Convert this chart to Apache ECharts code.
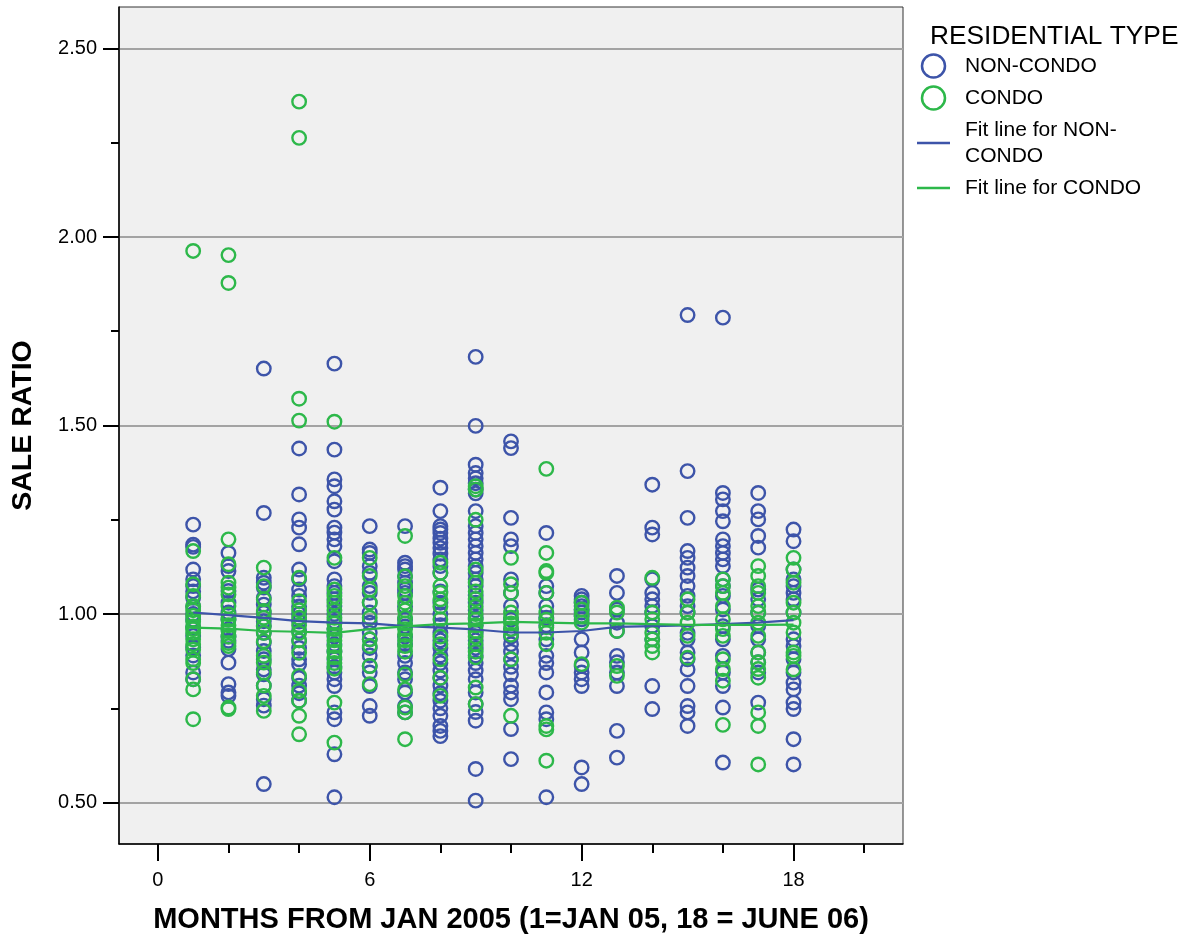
<!DOCTYPE html>
<html>
<head>
<meta charset="utf-8">
<script src="https://cdn.jsdelivr.net/npm/echarts@6/dist/echarts.min.js"></script>
<style>
html,body{margin:0;padding:0;background:#fff;}
#chart{width:1196px;height:939px;}
</style>
</head>
<body>
<div id="chart"></div>
<script>
// ---------- DATA ----------
const months = [1,2,3,4,5,6,7,8,9,10,11,12,13,14,15,16,17,18];

const nonCondoByMonth = [
  [1.237,1.184,1.178,1.118,1.092,1.074,1.060,1.043,1.020,1.000,0.985,0.965,0.942,0.911,0.890,0.845,0.827],
  [1.162,1.127,1.114,1.061,1.030,1.004,0.985,0.960,0.940,0.929,0.907,0.871,0.814,0.792,0.783],
  [1.651,1.268,1.096,1.083,1.070,1.043,1.025,1.003,0.981,0.968,0.950,0.924,0.902,0.880,0.853,0.840,0.810,0.774,0.757,0.549],
  [1.439,1.317,1.251,1.229,1.185,1.118,1.092,1.065,1.048,1.020,1.000,0.980,0.955,0.930,0.910,0.880,0.867,0.830,0.810,0.790,0.770],
  [1.664,1.436,1.357,1.339,1.299,1.277,1.229,1.216,1.198,1.180,1.140,1.092,1.074,1.056,1.039,1.021,1.000,0.980,0.960,0.940,0.920,0.900,0.880,0.860,0.845,0.827,0.809,0.739,0.721,0.628,0.514],
  [1.233,1.171,1.162,1.127,1.109,1.074,1.056,1.030,1.004,0.977,0.950,0.933,0.910,0.890,0.862,0.845,0.809,0.756,0.730],
  [1.233,1.136,1.127,1.118,1.100,1.083,1.065,1.056,1.020,0.985,0.967,0.940,0.920,0.889,0.870,0.845,0.827,0.792,0.756,0.739],
  [1.335,1.273,1.233,1.224,1.215,1.200,1.189,1.175,1.160,1.145,1.127,1.109,1.060,1.030,1.000,0.970,0.950,0.930,0.910,0.890,0.870,0.850,0.830,0.810,0.790,0.770,0.750,0.730,0.703,0.690,0.676],
  [1.682,1.499,1.396,1.374,1.360,1.347,1.330,1.320,1.273,1.233,1.215,1.198,1.180,1.162,1.145,1.127,1.109,1.092,1.074,1.050,1.030,1.010,0.990,0.970,0.950,0.930,0.910,0.890,0.870,0.850,0.827,0.792,0.761,0.740,0.717,0.589,0.505],
  [1.458,1.440,1.255,1.198,1.180,1.092,1.056,1.021,0.985,0.960,0.940,0.920,0.900,0.880,0.860,0.840,0.810,0.792,0.774,0.695,0.615],
  [1.215,1.074,1.056,1.021,0.990,0.970,0.933,0.889,0.870,0.845,0.792,0.739,0.721,0.514],
  [1.048,1.039,1.030,1.021,1.012,1.004,0.995,0.986,0.933,0.898,0.862,0.845,0.827,0.809,0.593,0.549],
  [1.101,1.056,1.012,0.977,0.955,0.889,0.872,0.845,0.809,0.690,0.619],
  [1.343,1.229,1.211,1.092,1.056,1.039,1.021,1.004,0.968,0.933,0.809,0.748],
  [1.793,1.379,1.255,1.167,1.149,1.123,1.101,1.074,1.048,1.021,1.004,0.950,0.933,0.898,0.880,0.853,0.809,0.756,0.739,0.703],
  [1.786,1.321,1.304,1.273,1.246,1.198,1.180,1.162,1.145,1.127,1.092,1.074,1.048,1.012,0.968,0.933,0.889,0.845,0.809,0.752,0.606],
  [1.321,1.273,1.251,1.207,1.176,1.065,1.039,1.004,0.968,0.933,0.898,0.872,0.845,0.765],
  [1.224,1.193,1.118,1.092,1.074,1.056,1.039,1.004,0.933,0.915,0.880,0.845,0.818,0.800,0.765,0.748,0.668,0.601]
];

const condoByMonth = [
  [1.963,1.167,1.079,1.048,1.021,1.010,0.995,0.981,0.967,0.960,0.950,0.933,0.920,0.906,0.880,0.870,0.827,0.800,0.721],
  [1.952,1.878,1.198,1.132,1.083,1.070,1.052,1.021,0.999,0.985,0.970,0.955,0.940,0.923,0.915,0.752,0.748],
  [1.123,1.074,1.039,1.008,0.990,0.968,0.950,0.928,0.889,0.871,0.845,0.810,0.783,0.743],
  [2.359,2.263,1.571,1.513,1.096,1.034,1.010,0.990,0.970,0.950,0.930,0.897,0.836,0.796,0.770,0.730,0.681],
  [1.510,1.149,1.065,1.048,1.030,1.010,0.990,0.975,0.960,0.945,0.930,0.915,0.900,0.885,0.870,0.855,0.765,0.659],
  [1.149,1.101,1.065,1.030,0.990,0.933,0.915,0.862,0.814],
  [1.207,1.100,1.074,1.048,1.030,1.010,0.990,0.975,0.960,0.945,0.930,0.915,0.900,0.840,0.800,0.752,0.739,0.668],
  [1.136,1.109,1.074,1.056,1.039,1.020,0.986,0.940,0.920,0.880,0.831,0.783],
  [1.339,1.330,1.250,1.118,1.083,1.060,1.040,1.020,1.000,0.985,0.970,0.955,0.940,0.920,0.900,0.885,0.805,0.761],
  [1.149,1.079,1.056,1.004,0.990,0.975,0.960,0.945,0.880,0.730],
  [1.385,1.162,1.114,1.109,1.056,1.004,0.985,0.965,0.950,0.920,0.703,0.694,0.611],
  [1.030,1.012,0.995,0.977,0.867],
  [1.017,1.004,0.955,0.862,0.836],
  [1.096,1.004,0.986,0.950,0.933,0.915,0.898],
  [1.039,1.004,0.977,0.942,0.884],
  [1.092,1.074,1.056,1.021,0.986,0.960,0.942,0.880,0.854,0.823,0.706],
  [1.127,1.101,1.074,1.056,1.021,1.004,0.977,0.942,0.898,0.872,0.854,0.831,0.739,0.703,0.601],
  [1.149,1.118,1.083,1.030,1.004,0.977,0.951,0.898,0.889,0.853]
];

const nonCondoFit = [1.004,0.997,0.990,0.981,0.977,0.975,0.968,0.964,0.959,0.951,0.951,0.955,0.966,0.968,0.970,0.973,0.977,0.984];
const condoFit    = [0.964,0.961,0.955,0.953,0.950,0.960,0.967,0.973,0.975,0.979,0.977,0.975,0.975,0.973,0.971,0.971,0.971,0.972];

const xMajorTicks = [0,6,12,18];
const xMinorTicks = [2,4,8,10,14,16,20];
const yMajorTicks = [0.5,1.0,1.5,2.0,2.5];
const yMinorTicks = [0.75,1.25,1.75,2.25];

const seriesNames = ['NON-CONDO','CONDO','Fit line for NON-CONDO','Fit line for CONDO'];

// ---------- STYLE ----------
const BLUE = '#3d54a9';
const GREEN = '#2db84a';
const FONT = '"Liberation Sans", Arial, Helvetica, sans-serif';
const LINE_ICON = 'path://M0,0 L33,0 L33,2.6 L0,2.6 Z';

function toPoints(byMonth){
  const out = [];
  byMonth.forEach((vals, i) => vals.forEach(v => out.push([months[i], v])));
  return out;
}

const chart = echarts.init(document.getElementById('chart'), null, {renderer:'canvas'});

const axisCommonX = {
  type:'value', min:-1.1, max:21.1, gridIndex:0, position:'bottom'
};
const axisCommonY = {
  type:'value', min:0.39, max:2.61, gridIndex:0, position:'left'
};

const option = {
  animation:false,
  backgroundColor:'#ffffff',
  textStyle:{fontFamily:FONT},
  title:{
    text:'RESIDENTIAL TYPE', left:930, top:24, padding:0,
    textStyle:{fontFamily:FONT, fontSize:26.3, fontWeight:'normal', color:'#000'}
  },
  legend:{
    orient:'vertical', left:917, top:53, padding:0,
    itemWidth:33, itemHeight:23, itemGap:6,
    selectedMode:false,
    formatter: name => name === 'Fit line for NON-CONDO' ? 'Fit line for NON-\nCONDO' : name,
    textStyle:{fontFamily:FONT, fontSize:21, color:'#000', lineHeight:26, padding:[0,0,0,10]},
    data:[
      {name:seriesNames[0], icon:'circle', itemStyle:{color:'rgba(0,0,0,0)', borderColor:BLUE, borderWidth:2.5}},
      {name:seriesNames[1], icon:'circle', itemStyle:{color:'rgba(0,0,0,0)', borderColor:GREEN, borderWidth:2.5}},
      {name:seriesNames[2], icon:LINE_ICON, itemStyle:{color:BLUE, borderWidth:0}},
      {name:seriesNames[3], icon:LINE_ICON, itemStyle:{color:GREEN, borderWidth:0}}
    ]
  },
  grid:{
    left:119, right:293, top:7, bottom:95,
    show:true, backgroundColor:'#f0f0f0', borderColor:'#333', borderWidth:1
  },
  xAxis:[
    Object.assign({}, axisCommonX, {
      name:'MONTHS FROM JAN 2005 (1=JAN 05, 18 = JUNE 06)',
      nameLocation:'middle', nameGap:61,
      nameTextStyle:{fontFamily:FONT, fontSize:29, fontWeight:'bold', color:'#000'},
      axisLine:{show:true, onZero:false, lineStyle:{color:'#000', width:1.5}},
      axisTick:{show:true, inside:false, length:17, customValues:xMajorTicks, lineStyle:{color:'#000', width:2}},
      axisLabel:{show:true, customValues:xMajorTicks, margin:26, fontFamily:FONT, fontSize:20, color:'#000'},
      splitLine:{show:false}
    }),
    Object.assign({}, axisCommonX, {
      axisLine:{show:false, onZero:false},
      axisTick:{show:true, inside:false, length:9, customValues:xMinorTicks, lineStyle:{color:'#000', width:2}},
      axisLabel:{show:false},
      splitLine:{show:false}
    })
  ],
  yAxis:[
    Object.assign({}, axisCommonY, {
      name:'SALE RATIO', nameLocation:'middle', nameGap:81, nameRotate:90,
      nameTextStyle:{fontFamily:FONT, fontSize:28.5, fontWeight:'bold', color:'#000'},
      axisLine:{show:true, onZero:false, lineStyle:{color:'#000', width:1.5}},
      axisTick:{show:true, inside:false, length:16, customValues:yMajorTicks, lineStyle:{color:'#000', width:2}},
      axisLabel:{show:true, customValues:yMajorTicks, margin:22, fontFamily:FONT, fontSize:20, color:'#000',
                 formatter: v => Number(v).toFixed(2)},
      splitLine:{show:true, lineStyle:{color:'#a3a3a3', width:2}}
    }),
    Object.assign({}, axisCommonY, {
      axisLine:{show:false, onZero:false},
      axisTick:{show:true, inside:false, length:8, customValues:yMinorTicks, lineStyle:{color:'#000', width:2}},
      axisLabel:{show:false},
      splitLine:{show:false}
    })
  ],
  series:[
    {
      name:seriesNames[0], type:'scatter', xAxisIndex:0, yAxisIndex:0, z:2,
      symbol:'circle', symbolSize:13.5,
      itemStyle:{color:'rgba(0,0,0,0)', borderColor:BLUE, borderWidth:2.4, opacity:1},
      emphasis:{disabled:true},
      data: toPoints(nonCondoByMonth)
    },
    {
      name:seriesNames[1], type:'scatter', xAxisIndex:0, yAxisIndex:0, z:2,
      symbol:'circle', symbolSize:13.5,
      itemStyle:{color:'rgba(0,0,0,0)', borderColor:GREEN, borderWidth:2.4, opacity:1},
      emphasis:{disabled:true},
      data: toPoints(condoByMonth)
    },
    {
      name:seriesNames[2], type:'line', xAxisIndex:0, yAxisIndex:0, z:4,
      symbol:'none', smooth:false,
      lineStyle:{color:BLUE, width:2.2}, itemStyle:{color:BLUE},
      emphasis:{disabled:true},
      data: months.map((m,i) => [m, nonCondoFit[i]])
    },
    {
      name:seriesNames[3], type:'line', xAxisIndex:0, yAxisIndex:0, z:4,
      symbol:'none', smooth:false,
      lineStyle:{color:GREEN, width:2.2}, itemStyle:{color:GREEN},
      emphasis:{disabled:true},
      data: months.map((m,i) => [m, condoFit[i]])
    }
  ]
};

chart.setOption(option);
</script>
</body>
</html>
